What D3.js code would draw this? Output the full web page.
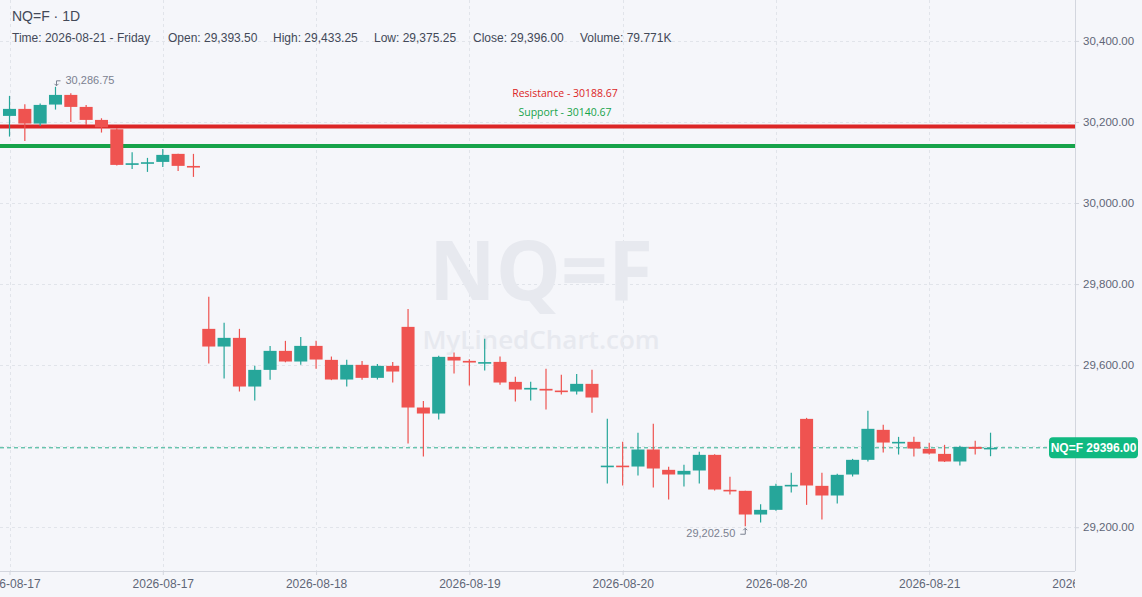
<!DOCTYPE html>
<meta charset="utf-8">
<style>
body { margin: 0; background: #f5f6fa; }
svg { display: block; font-family: "Liberation Sans", Arial, sans-serif; }
.grid line { stroke: #e1e4ea; stroke-dasharray: 3,3; }
.axis path, .axis line { stroke: #d3d6de; }
.axis text { fill: #5f6677; font-size: 11.5px; }
.hdr { fill: #434958; }
.wm { fill: #e7e9ef; font-family: "Open Sans", sans-serif; font-weight: 700; }
.lvl { font-family: "Open Sans", sans-serif; font-size: 10.5px; }
.ext { fill: #7b8190; font-size: 11px; }
</style>
<body>
<svg id="chart" width="1142" height="597"></svg>

<script src="https://d3js.org/d3.v7.min.js"></script>
<script>
// candle data (one candle per bar, index 0..64)
var opens  = [30215.0,30232.3,30196.1,30243.0,30266.8,30237.2,30205.1,30182.0,30094.1,30099.0,
              30101.5,30121.3,30091.5,29689.5,29645.9,29667.3,29547.2,29588.3,29635.2,29608.9,
              29647.5,29613.0,29564.5,29600.7,29568.6,29598.2,29694.4,29495.4,29480.6,29620.4,
              29610.5,29606.0,29608.0,29558.7,29539.8,29541.5,29537.3,29534.9,29553.8,29350.0,
              29352.0,29349.8,29391.8,29341.6,29330.1,29340.0,29378.6,29292.3,29289.8,29231.4,
              29242.9,29303.0,29467.4,29302.1,29278.3,29330.1,29366.3,29440.3,29409.0,29410.7,
              29393.4,29381.0,29362.2,29398.3,29393.5];
var highs  = [30264.4,30243.8,30245.4,30286.75,30270.9,30242.1,30209.2,30184.6,30125.4,30111.4,
              30133.6,30121.3,30121.3,29769.0,29704.3,29689.5,29598.2,29647.5,29659.9,29669.7,
              29659.9,29621.2,29613.0,29610.5,29603.1,29608.0,29738.8,29511.8,29622.9,29631.1,
              29614.6,29664.8,29621.2,29571.1,29558.7,29590.8,29576.0,29578.4,29588.3,29467.4,
              29410.7,29432.9,29455.1,29349.0,29353.9,29386.0,29380.2,29324.3,29289.8,29256.9,
              29307.1,29334.2,29469.9,29334.2,29331.7,29368.7,29487.2,29452.6,29423.0,29423.0,
              29408.2,29403.3,29400.8,29413.2,29433.25];
var lows   = [30164.0,30153.3,30190.3,30230.6,30200.2,30192.8,30173.9,30092.5,30084.2,30076.8,
              30089.2,30079.3,30064.5,29604.0,29567.0,29534.9,29512.7,29563.7,29607.0,29600.7,
              29590.8,29563.0,29547.2,29563.7,29564.5,29557.0,29406.6,29374.5,29465.8,29579.3,
              29549.7,29586.7,29551.3,29510.2,29512.7,29490.5,29527.5,29527.5,29482.2,29307.9,
              29303.0,29327.6,29298.0,29268.4,29300.5,29307.9,29290.6,29280.7,29202.5,29211.7,
              29240.4,29285.7,29255.2,29219.1,29258.5,29325.2,29362.2,29384.4,29379.4,29374.5,
              29379.4,29361.0,29352.3,29379.4,29375.25];
var closes = [30232.3,30196.1,30242.1,30266.8,30237.2,30205.1,30187.0,30094.1,30098.2,30100.7,
              30118.8,30091.7,30090.0,29645.9,29667.3,29547.2,29588.3,29635.2,29608.9,29647.5,
              29613.8,29564.5,29600.7,29568.6,29598.2,29584.2,29495.4,29480.6,29620.4,29611.4,
              29606.4,29607.5,29557.1,29539.8,29543.9,29537.3,29534.9,29553.8,29520.1,29352.0,
              29350.0,29391.8,29344.9,29330.1,29339.1,29378.6,29293.1,29290.6,29231.4,29242.9,
              29302.1,29304.6,29303.0,29278.3,29329.3,29366.3,29442.8,29409.0,29410.7,29394.2,
              29381.9,29362.2,29398.3,29393.4,29396.0];

var tickIdx    = [0, 10, 20, 30, 40, 50, 60, 70];
var tickLabels = ["2026-08-17","2026-08-17","2026-08-18","2026-08-19","2026-08-20","2026-08-20","2026-08-21","2026-08-21"];
var priceTicks = [29200, 29400, 29600, 29800, 30000, 30200, 30400];
// 29,400 sits under the last-price badge, so its label is not drawn
var priceLabels = [29200, 29600, 29800, 30000, 30200, 30400];

var resistance = 30188.67;
var support    = 30140.67;
var lastClose  = 29396.00;
var maxIdx = 3, minIdx = 48;

var headerItems = ["Time: 2026-08-21 - Friday", "Open: 29,393.50", "High: 29,433.25",
                   "Low: 29,375.25", "Close: 29,396.00", "Volume: 79.771K"];
var headerX = [12, 168, 273, 374, 473, 580];

// layout
var W = 1075, H = 571;
var green = "#26a69a", red = "#ef5350";

var svg = d3.select("#chart");

var x = d3.scaleLinear().domain([-0.62, 69.51]).range([0, W]);
var y = d3.scaleLinear().domain([29092, 30501]).range([H, 0]);
var step = x(1) - x(0);
var bodyW = step * 0.85;

svg.append("rect").attr("width", 1142).attr("height", 597).attr("fill", "#f5f6fa");

var defs = svg.append("defs");
defs.append("clipPath").attr("id", "plotclip")
   .append("rect").attr("width", W).attr("height", H);
defs.append("clipPath").attr("id", "xclip")
   .append("rect").attr("x", 0).attr("y", -2).attr("width", W).attr("height", 40);

// grid
var grid = svg.append("g").attr("class", "grid");
grid.selectAll(".hg").data(priceTicks).enter().append("line")
    .attr("x1", 0).attr("x2", W)
    .attr("y1", function(d) { return Math.round(y(d)) + 0.5; })
    .attr("y2", function(d) { return Math.round(y(d)) + 0.5; });
grid.selectAll(".vg").data(tickIdx.slice(0, 7)).enter().append("line")
    .attr("y1", 0).attr("y2", H)
    .attr("x1", function(d) { return Math.round(x(d)) + 0.5; })
    .attr("x2", function(d) { return Math.round(x(d)) + 0.5; });

// watermark
svg.append("text").attr("class", "wm").attr("x", 541).attr("y", 300)
   .attr("text-anchor", "middle").style("font-size", "82px").text("NQ=F");
svg.append("text").attr("class", "wm").attr("x", 541).attr("y", 349)
   .attr("text-anchor", "middle").style("font-size", "26px").style("font-weight", 600)
   .text("MyLinedChart.com");

// header
svg.append("text").attr("class", "hdr").attr("x", 12).attr("y", 21)
   .style("font-size", "14px").text("NQ=F \u00b7 1D");
svg.selectAll(".hitem").data(headerItems).enter().append("text")
   .attr("class", "hdr").attr("x", function(d, i) { return headerX[i]; }).attr("y", 41.5)
   .style("font-size", "12px").text(function(d) { return d; });

// support / resistance
svg.append("line").attr("x1", 0).attr("x2", W).attr("y1", y(resistance)).attr("y2", y(resistance))
   .attr("stroke", "#dc2626").attr("stroke-width", 4);
svg.append("line").attr("x1", 0).attr("x2", W).attr("y1", y(support)).attr("y2", y(support))
   .attr("stroke", "#16a34a").attr("stroke-width", 4);
svg.append("text").attr("class", "lvl").attr("x", 565).attr("y", 97)
   .attr("text-anchor", "middle").attr("fill", "#dc2626").text("Resistance - " + resistance.toFixed(2));
svg.append("text").attr("class", "lvl").attr("x", 565).attr("y", 116)
   .attr("text-anchor", "middle").attr("fill", "#16a34a").text("Support - " + support.toFixed(2));

// last price dashed line
svg.append("line").attr("x1", 0).attr("x2", W).attr("y1", y(lastClose)).attr("y2", y(lastClose))
   .attr("stroke", "#2bb08c").attr("stroke-dasharray", "4,3").attr("stroke-width", 1);

// candles
var idx = d3.range(opens.length);
var candles = svg.append("g").attr("clip-path", "url(#plotclip)");
candles.selectAll(".wick").data(idx).enter().append("line")
    .attr("x1", function(i) { return x(i); }).attr("x2", function(i) { return x(i); })
    .attr("y1", function(i) { return y(highs[i]); }).attr("y2", function(i) { return y(lows[i]); })
    .attr("stroke", function(i) { return closes[i] >= opens[i] ? green : red; })
    .attr("stroke-width", 1.2);
candles.selectAll(".body").data(idx).enter().append("rect")
    .attr("x", function(i) { return x(i) - bodyW / 2; })
    .attr("width", bodyW)
    .attr("y", function(i) { return y(Math.max(opens[i], closes[i])); })
    .attr("height", function(i) { return Math.max(1.6, Math.abs(y(opens[i]) - y(closes[i]))); })
    .attr("fill", function(i) { return closes[i] >= opens[i] ? green : red; });

// high / low markers
var hx = x(maxIdx), hy = y(highs[maxIdx]);
svg.append("path").attr("fill", "none").attr("stroke", "#7b8190").attr("stroke-width", 1)
   .attr("d", "M" + (hx + 5) + "," + (hy - 6) + "H" + (hx + 1) + "V" + (hy - 1) +
              "M" + (hx - 1) + "," + (hy - 3) + "L" + (hx + 1) + "," + (hy - 1) + "L" + (hx + 3) + "," + (hy - 3));
svg.append("text").attr("class", "ext").attr("x", hx + 10).attr("y", hy - 2.5)
   .text(d3.format(",.2f")(highs[maxIdx]));

var lx = x(minIdx), ly = y(lows[minIdx]);
svg.append("path").attr("fill", "none").attr("stroke", "#7b8190").attr("stroke-width", 1)
   .attr("d", "M" + (lx - 5) + "," + (ly + 8) + "H" + (lx) + "V" + (ly + 2) +
              "M" + (lx - 2) + "," + (ly + 4) + "L" + (lx) + "," + (ly + 2) + "L" + (lx + 2) + "," + (ly + 4));
svg.append("text").attr("class", "ext").attr("x", lx - 10).attr("y", ly + 11)
   .attr("text-anchor", "end").text(d3.format(",.2f")(lows[minIdx]));

// y axis
var yAxis = svg.append("g").attr("class", "axis").attr("transform", "translate(" + W + ",0)")
   .call(d3.axisRight(y).tickValues(priceLabels).tickFormat(d3.format(",.2f")).tickSize(4).tickPadding(4));
yAxis.select(".domain").attr("d", "M0.5,0V" + H);

// x axis
var xAxis = svg.append("g").attr("class", "axis").attr("transform", "translate(0," + H + ")")
   .attr("clip-path", "url(#xclip)")
   .call(d3.axisBottom(x).tickValues(tickIdx).tickFormat(function(d, i) { return tickLabels[i]; })
         .tickSize(4).tickPadding(4));
xAxis.select(".domain").attr("d", "M0," + 0.5 + "H" + W);
xAxis.selectAll("text").style("font-size", "12px");

// last price badge
var by = y(lastClose);
svg.append("rect").attr("x", 1049).attr("y", by - 10.5).attr("width", 89).attr("height", 21)
   .attr("rx", 4).attr("fill", "#10b981");
svg.append("text").attr("x", 1093.5).attr("y", by + 4).attr("text-anchor", "middle")
   .attr("fill", "#fff").style("font-size", "12px").style("font-weight", "bold")
   .text("NQ=F " + lastClose.toFixed(2));
</script>
</body>
